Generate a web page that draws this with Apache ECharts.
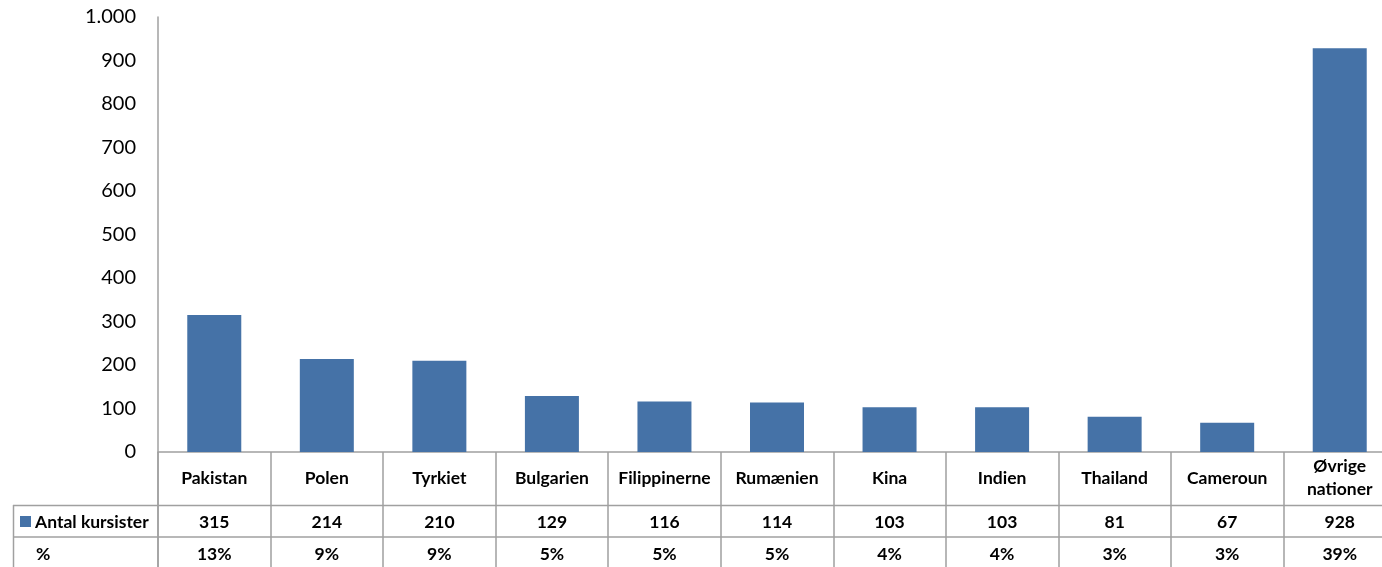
<!DOCTYPE html>
<html><head><meta charset="utf-8">
<script src="https://cdn.jsdelivr.net/npm/echarts@6/dist/echarts.min.js"></script>
<style>html,body{margin:0;padding:0;background:#fff}#c{width:1382px;height:567px}</style>
</head><body><div id="c"></div>
<script>
const categories = ['Pakistan','Polen','Tyrkiet','Bulgarien','Filippinerne','Rumænien','Kina','Indien','Thailand','Cameroun','Øvrige\nnationer'];
const counts = [315,214,210,129,116,114,103,103,81,67,928];
const percents = ['13%','9%','9%','5%','5%','5%','4%','4%','3%','3%','39%'];
const seriesName = 'Antal kursister';
const pctRowName = '%';
const yTicks = {min:0, max:1000, interval:100};

const FONT = 'Lato, "Open Sans", sans-serif';
const BLUE = '#4572A7';
const LINE = '#a0a0a0';
const chart = echarts.init(document.getElementById('c'), null, {renderer:'canvas'});
const fmt = v => String(v).replace(/\B(?=(\d{3})+(?!\d))/g, '.');
const tableLabel = {fontFamily:FONT, fontWeight:'bold', fontSize:17.5, color:'#000', verticalAlign:'middle', lineHeight:23};
chart.setOption({
  animation:false,
  grid:{left:158, top:17, width:1238, height:435, outerBoundsMode:'none', containLabel:false},
  xAxis:[
    {type:'category', data:categories, position:'bottom',
     axisLine:{show:true, lineStyle:{color:LINE, width:1.5}},
     axisTick:{show:true, length:115, lineStyle:{color:LINE, width:1.5}},
     axisLabel:Object.assign({margin:26, interval:0}, tableLabel)},
    {type:'category', data:counts.map(String), position:'bottom',
     axisLine:{show:false}, axisTick:{show:false},
     axisLabel:Object.assign({margin:70, interval:0}, tableLabel)},
    {type:'category', data:percents, position:'bottom',
     axisLine:{show:false}, axisTick:{show:false},
     axisLabel:Object.assign({margin:102, interval:0}, tableLabel)}
  ],
  yAxis:{type:'value', min:yTicks.min, max:yTicks.max, interval:yTicks.interval,
    axisLine:{show:true, lineStyle:{color:LINE, width:1.5}},
    axisTick:{show:false}, splitLine:{show:false},
    axisLabel:{formatter:fmt, fontFamily:FONT, fontSize:20, color:'#000', margin:22}},
  series:[{name:seriesName, type:'bar', data:counts, barWidth:54, itemStyle:{color:BLUE}, xAxisIndex:0}],
  graphic:[
    {type:'line', shape:{x1:13,y1:505.5,x2:1382,y2:505.5}, style:{stroke:LINE, lineWidth:1.5}},
    {type:'line', shape:{x1:13,y1:537,x2:1382,y2:537}, style:{stroke:LINE, lineWidth:1.5}},
    {type:'line', shape:{x1:13.5,y1:505,x2:13.5,y2:567}, style:{stroke:LINE, lineWidth:1.5}},
    {type:'line', shape:{x1:158,y1:452,x2:158,y2:567}, style:{stroke:LINE, lineWidth:1.5}},
    {type:'rect', shape:{x:20,y:516,width:11,height:11}, style:{fill:BLUE}},
    {type:'text', x:35, y:522, style:{text:seriesName, font:'bold 17.5px '+FONT, fill:'#000', verticalAlign:'middle'}},
    {type:'text', x:36, y:554, style:{text:pctRowName, font:'bold 17.5px '+FONT, fill:'#000', verticalAlign:'middle'}}
  ]
});
</script></body></html>
